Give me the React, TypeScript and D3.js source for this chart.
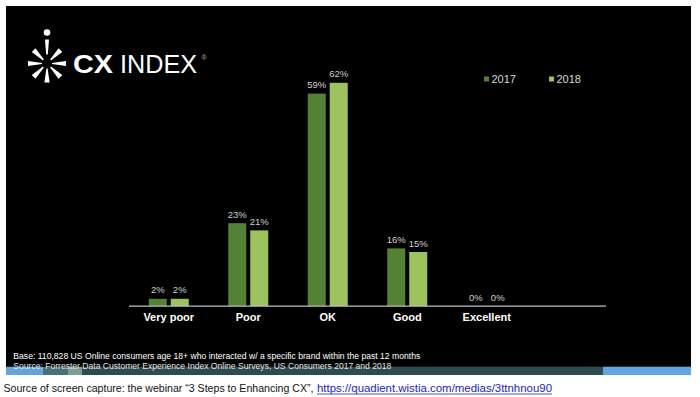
import React from 'react';
import * as d3 from 'd3';

// data
const categories = ['Very poor', 'Poor', 'OK', 'Good', 'Excellent'];
const years = ['2017', '2018'];
const values2017 = [2, 23, 59, 16, 0];
const values2018 = [2, 21, 62, 15, 0];
const seriesColors = ['#548235', '#9dc35f'];

const baseNote = 'Base: 110,828 US Online consumers age 18+ who interacted w/ a specific brand within the past 12 months';
const sourceNote = 'Source: Forrester Data Customer Experience Index Online Surveys, US Consumers 2017 and 2018';
const captionText = 'Source of screen capture: the webinar \u201c3 Steps to Enhancing CX\u201d,';
const captionLink = 'https://quadient.wistia.com/medias/3ttnhnou90';

const W = 700;
const H = 397;
const FONT = '"Liberation Sans", Arial, sans-serif';

// little burst icon of the logo
const LogoIcon = ({ cx, cy }: { cx: number; cy: number }) => {
  const angles = [0, 45, 90, 135, 180, 225, 315];
  const wedge = (a: number, r0: number, r1: number, w0: number, w1: number) => {
    const rad = (a * Math.PI) / 180;
    const ux = Math.cos(rad), uy = Math.sin(rad);
    const px = -uy, py = ux;
    const pts = [
      [cx + ux * r0 + px * w0, cy + uy * r0 + py * w0],
      [cx + ux * r1 + px * w1, cy + uy * r1 + py * w1],
      [cx + ux * r1 - px * w1, cy + uy * r1 - py * w1],
      [cx + ux * r0 - px * w0, cy + uy * r0 - py * w0],
    ];
    return 'M' + pts.map(p => p.join(',')).join('L') + 'Z';
  };
  return (
    <g fill="#ffffff">
      {angles.map(a => (
        <path key={a} d={wedge(a, 5, 19, 0.6, 2.6)} />
      ))}
      <path d={wedge(270, 9, 24, 0.8, 2)} />
      <circle cx={cx} cy={cy - 31} r={3.3} />
    </g>
  );
};

export default function App() {
  const x = d3.scaleBand<string>().domain(categories).range([129, 526.5]).padding(0);
  const x1 = d3.scaleBand<string>().domain(years).range([-20, 20]).paddingInner(0.18).paddingOuter(0);
  const y = d3.scaleLinear().domain([0, 62]).range([306, 82.8]);
  const series = [values2017, values2018];
  const axisEnd = x.range()[1] + x.step();

  return (
    <svg
      width={W}
      height={H}
      style={{ position: 'absolute', left: 0, top: 0, display: 'block', background: '#ffffff' }}
      fontFamily={FONT}
    >
      <rect x={6} y={6} width={685} height={369} fill="#000000" />

      {/* logo */}
      <LogoIcon cx={47} cy={63.5} />
      <text x={73} y={73} fontSize={26} fontWeight="bold" fill="#ffffff" textLength={40} lengthAdjust="spacingAndGlyphs">CX</text>
      <text x={120} y={73} fontSize={26} fill="#ffffff" textLength={77} lengthAdjust="spacingAndGlyphs">INDEX</text>
      <text x={201.5} y={60} fontSize={7} fill="#aaaaaa">®</text>

      {/* legend */}
      {years.map((yr, i) => (
        <g key={yr} transform={`translate(${484 + i * 65},0)`}>
          <rect x={0} y={76.5} width={5} height={5} fill={seriesColors[i]} />
          <text x={7.5} y={83} fontSize={11} fill="#d9d9d9">{yr}</text>
        </g>
      ))}

      {/* bars */}
      {categories.map((c, ci) => {
        const center = (x(c) ?? 0) + x.bandwidth() / 2;
        return (
          <g key={c}>
            {series.map((vals, si) => {
              const bx = center + (x1(years[si]) ?? 0);
              const v = vals[ci];
              return (
                <g key={si}>
                  <rect x={bx} y={y(v)} width={x1.bandwidth()} height={y(0) - y(v)} fill={seriesColors[si]} />
                  <text x={bx + x1.bandwidth() / 2} y={y(v) - 5.5} fontSize={9.5} fill="#d0d0d0" textAnchor="middle">
                    {v}%
                  </text>
                </g>
              );
            })}
            <text x={center} y={321} fontSize={11} fontWeight="bold" fill="#ffffff" textAnchor="middle">{c}</text>
          </g>
        );
      })}

      <line x1={x.range()[0]} x2={axisEnd} y1={y(0) + 0.2} y2={y(0) + 0.2} stroke="#bfbfbf" strokeWidth={1.2} />

      {/* video controls bar */}
      <g>
        <rect x={6} y={366.7} width={37} height={8.3} fill="#64a4d8" />
        <rect x={43} y={366.7} width={25} height={8.3} fill="#46707a" />
        <rect x={68} y={366.7} width={14} height={8.3} fill="#7d9d92" />
        <rect x={82} y={366.7} width={521} height={8.3} fill="#2e4b53" />
        <rect x={603} y={366.7} width={88} height={8.3} fill="#62a6df" />
      </g>

      {/* footnotes */}
      <text x={13.3} y={359.3} fontSize={8.5} fill="#ffffff" textLength={407} lengthAdjust="spacingAndGlyphs">{baseNote}</text>
      <text x={13.3} y={369.3} fontSize={8.5} fill="#e4e4e4" textLength={378} lengthAdjust="spacingAndGlyphs">{sourceNote}</text>

      {/* caption */}
      <text x={3.5} y={392.3} fontSize={11.5} fill="#111111" textLength={310} lengthAdjust="spacingAndGlyphs">{captionText}</text>
      <text x={317} y={392.3} fontSize={11.5} fill="#2222cc" textLength={235} lengthAdjust="spacingAndGlyphs">{captionLink}</text>
      <line x1={317} x2={552} y1={394} y2={394} stroke="#2222cc" strokeWidth={0.8} />
    </svg>
  );
}
